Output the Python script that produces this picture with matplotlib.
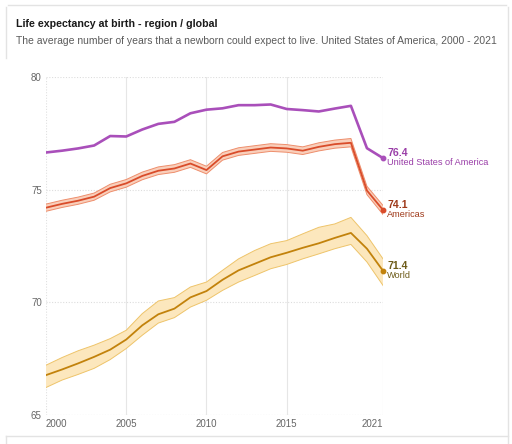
import matplotlib.pyplot as plt
from matplotlib.lines import Line2D

years = list(range(2000, 2022))

usa = [76.65, 76.73, 76.83, 76.96, 77.38, 77.36, 77.67, 77.92, 78.01, 78.39, 78.55,
       78.61, 78.75, 78.75, 78.78, 78.58, 78.53, 78.47, 78.60, 78.72, 76.84, 76.4]

americas = [74.20, 74.37, 74.51, 74.69, 75.07, 75.28, 75.61, 75.84, 75.94, 76.16, 75.87,
            76.48, 76.69, 76.78, 76.87, 76.83, 76.73, 76.90, 77.02, 77.08, 74.96, 74.1]
americas_lo = [74.04, 74.21, 74.35, 74.53, 74.90, 75.11, 75.44, 75.67, 75.77, 75.99, 75.70,
               76.31, 76.52, 76.61, 76.70, 76.66, 76.56, 76.72, 76.84, 76.90, 74.78, 73.90]
americas_hi = [74.36, 74.53, 74.67, 74.85, 75.24, 75.45, 75.78, 76.01, 76.11, 76.33, 76.04,
               76.65, 76.86, 76.95, 77.04, 77.00, 76.90, 77.08, 77.20, 77.27, 75.15, 74.30]

world = [66.77, 67.02, 67.29, 67.58, 67.90, 68.35, 68.98, 69.47, 69.72, 70.22, 70.50,
         71.00, 71.42, 71.71, 72.00, 72.20, 72.42, 72.62, 72.86, 73.08, 72.38, 71.4]
world_lo = [66.22, 66.55, 66.80, 67.07, 67.46, 67.95, 68.54, 69.08, 69.32, 69.79, 70.09,
            70.53, 70.90, 71.19, 71.49, 71.68, 71.93, 72.15, 72.38, 72.57, 71.79, 70.75]
world_hi = [67.21, 67.55, 67.85, 68.10, 68.39, 68.76, 69.50, 70.06, 70.21, 70.68, 70.90,
            71.42, 71.93, 72.30, 72.60, 72.74, 73.04, 73.33, 73.48, 73.77, 72.96, 71.93]

series_names = ["United States of America", "Americas", "World"]
x_ticks = [2000, 2005, 2010, 2015, 2021]
y_ticks = [65, 70, 75, 80]

plt.rcParams["font.family"] = ["Liberation Sans", "DejaVu Sans"]

W, H = 512, 444
fig = plt.figure(figsize=(W / 100, H / 100), dpi=100)


def px(x, y):
    return x / W, 1 - y / H


# card outline (screenshot frame)
border = "#e3e3e3"
for (x0, y0), (x1, y1) in [((8, 5), (506, 5)), ((6, 7), (6, 58)), ((508, 7), (508, 444)),
                           ((6, 436), (508, 436)), ((6, 436), (6, 444))]:
    fig.add_artist(Line2D([x0 / W, x1 / W], [1 - y0 / H, 1 - y1 / H],
                          color=border, lw=1.0, transform=fig.transFigure))

fig.text(*px(16, 24), "Life expectancy at birth - region / global", fontsize=7.7,
         fontweight="bold", color="#1a1a1a", va="center", ha="left")
fig.text(*px(16, 41), "The average number of years that a newborn could expect to live. "
         "United States of America, 2000 - 2021", fontsize=7.45, color="#5b5b5b",
         va="center", ha="left")

ax = fig.add_axes([46 / W, 1 - 415 / H, 337 / W, 338 / H])
ax.set_xlim(2000, 2021)
ax.set_ylim(65, 80)
for s in ax.spines.values():
    s.set_visible(False)

# grid
for yv in y_ticks:
    ax.axhline(yv, color="#bdbdbd" if yv == 65 else "#dddddd", lw=0.8,
               ls=(0, (1, 1.5)), zorder=0)
for xv in [2005, 2010, 2015]:
    ax.axvline(xv, color="#e6e6e6", lw=0.8, zorder=0)
ax.axvline(2000, color="#e0e0e0", lw=0.8, ls=(0, (1, 1.5)), zorder=0)
ax.axvline(2021, color="#e6e6e6", lw=0.8, zorder=0)

ax.tick_params(length=0, labelsize=7, colors="#666666", pad=3)
ax.set_yticks(y_ticks)
ax.set_xticks(x_ticks)
ax.set_xticklabels([str(v) for v in x_ticks])
xl = ax.get_xticklabels()
xl[0].set_ha("left")
xl[-1].set_ha("right")

# World band + line
ax.fill_between(years, world_lo, world_hi, facecolor="#fce7bd", edgecolor="none", zorder=1)
ax.plot(years, world_lo, color="#eec46a", lw=0.7, zorder=2)
ax.plot(years, world_hi, color="#eec46a", lw=0.7, zorder=2)
ax.plot(years, world, color="#c2820c", lw=1.3, zorder=3)

# Americas band + line
ax.fill_between(years, americas_lo, americas_hi, facecolor="#f9cfbb", edgecolor="none", zorder=1)
ax.plot(years, americas_lo, color="#ee8e6c", lw=0.7, zorder=2)
ax.plot(years, americas_hi, color="#ee8e6c", lw=0.7, zorder=2)
ax.plot(years, americas, color="#d94c2a", lw=1.3, zorder=3)

# USA line
ax.plot(years, usa, color="#a94fba", lw=1.9, zorder=4, solid_joinstyle="round")

line_cols = ["#a94fba", "#d94c2a", "#c2820c"]
text_cols = ["#9a3ea8", "#9f3a1b", "#6e5c1a"]
ends = [usa[-1], americas[-1], world[-1]]
for name, val, lc, tc in zip(series_names, ends, line_cols, text_cols):
    ax.plot([years[-1]], [val], "o", color=lc, ms=3.2, zorder=5, clip_on=False)
    ax.annotate(f"{val:.1f}", (years[-1], val), xytext=(4, 5), textcoords="offset pixels",
                fontsize=7.6, fontweight="bold", color=tc, va="center", ha="left",
                annotation_clip=False)
    ax.annotate(name, (years[-1], val), xytext=(4, -4.5), textcoords="offset pixels",
                fontsize=6.6, color=tc, va="center", ha="left", annotation_clip=False)

fig.savefig("out.png", dpi=100)
